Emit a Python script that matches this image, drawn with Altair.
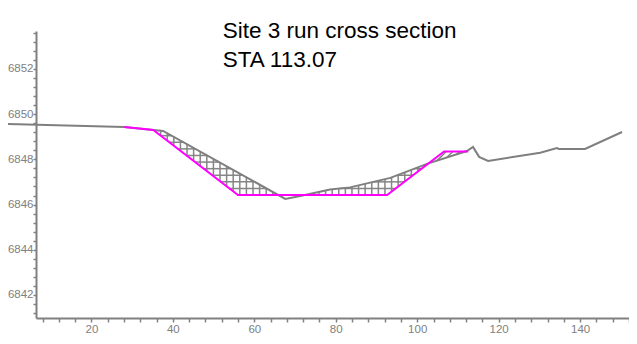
import altair as alt
import numpy as np
import pandas as pd

# Existing ground profile (gray)
ground_sta = [-2.4, 28.1, 37.6, 67.6, 71.3, 78.6, 83.5, 93.4, 102.4, 112.2,
              113.7, 115.2, 117.4, 130.2, 134.3, 134.8, 141.2, 150.3]
ground_elev = [6849.57, 6849.43, 6849.26, 6846.25, 6846.38, 6846.67, 6846.76,
               6847.18, 6847.80, 6848.37, 6848.55, 6848.11, 6847.93, 6848.29,
               6848.50, 6848.46, 6848.46, 6849.21]

# Design cross section (magenta)
design_sta = [28.1, 35.2, 56.0, 92.6, 106.6, 112.5]
design_elev = [6849.43, 6849.30, 6846.42, 6846.42, 6848.35, 6848.35]

title_lines = ["Site 3 run cross section", "STA 113.07"]

x_ticks = list(range(8, 153, 4))
y_ticks = [round(v, 1) for v in np.arange(6841.2, 6853.7, 0.4)]

# ---- hatch segments derived from the two profiles ----
gs = np.array(ground_sta); ge = np.array(ground_elev)
ds = np.array(design_sta); de = np.array(design_elev)
xs = np.linspace(ds[0], ds[-1], 8000)
g = np.interp(xs, gs, ge)
d = np.interp(xs, ds, de)


def runs(mask):
    idx = np.flatnonzero(np.diff(np.concatenate([[0], mask.astype(int), [0]])))
    return list(zip(idx[::2], idx[1::2] - 1))


segs = []
step_x = 1.62
step_y = 0.292
# cut area: vertical lines
for xv in np.arange(ds[0] + 0.8, ds[-1], step_x):
    gv = np.interp(xv, gs, ge); dv = np.interp(xv, ds, de)
    if gv - dv > 0.04:
        segs.append((xv, dv, xv, gv))
# cut area: horizontal lines
for yv in np.arange(6846.42, 6849.5, step_y):
    mask = (d < yv) & (g > yv) & (g - d > 0.04)
    for i0, i1 in runs(mask):
        if xs[i1] - xs[i0] > 0.1:
            segs.append((xs[i0], yv, xs[i1], yv))
# fill area: diagonal lines
k = 4.075 / 22.6
for x0 in np.arange(90, 120, step_x):
    yl = 6847.6 + k * (xs - x0)
    mask = (g < yl) & (yl < d) & (d - g > 0.03)
    for i0, i1 in runs(mask):
        if xs[i1] - xs[i0] > 0.1:
            segs.append((xs[i0], yl[i0], xs[i1], yl[i1]))

hatch = pd.DataFrame(segs, columns=["x", "y", "x2", "y2"])
ground = pd.DataFrame({"sta": ground_sta, "elev": ground_elev})
design = pd.DataFrame({"sta": design_sta, "elev": design_elev})

xscale = alt.Scale(domain=[6.4, 152.0], nice=False, zero=False)
yscale = alt.Scale(domain=[6840.98, 6853.68], nice=False, zero=False)

x_axis = alt.Axis(values=x_ticks, tickCount=500,
                  labelExpr="datum.value % 20 === 0 ? format(datum.value, 'd') : ''",
                  title=None, grid=False, tickSize=4, labelPadding=1,
                  labelOverlap=False, labelFlush=False, labelBound=False)
y_axis = alt.Axis(values=y_ticks, tickCount=500,
                  labelExpr="abs(datum.value/2 - round(datum.value/2)) < 0.01 ? format(datum.value, 'd') : ''",
                  title=None, grid=False, tickSize=3, labelPadding=0,
                  labelOverlap=False, labelFlush=False, labelBound=False)

hatch_layer = alt.Chart(hatch).mark_rule(color="#858585", strokeWidth=1.5).encode(
    x=alt.X("x:Q", scale=xscale, axis=x_axis),
    y=alt.Y("y:Q", scale=yscale, axis=y_axis),
    x2="x2:Q", y2="y2:Q",
)

ground_layer = alt.Chart(ground).mark_line(color="#7f7f7f", strokeWidth=2, clip=False).encode(
    x=alt.X("sta:Q", scale=xscale),
    y=alt.Y("elev:Q", scale=yscale),
)

design_layer = alt.Chart(design).mark_line(color="#ff00ff", strokeWidth=2).encode(
    x=alt.X("sta:Q", scale=xscale),
    y=alt.Y("elev:Q", scale=yscale),
)

t1 = alt.Chart(pd.DataFrame({"t": [title_lines[0]]})).mark_text(
    align="left", baseline="alphabetic", fontSize=22.5, font="Liberation Sans", color="black"
).encode(x=alt.value(186.7), y=alt.value(7.3), text="t:N")
t2 = alt.Chart(pd.DataFrame({"t": [title_lines[1]]})).mark_text(
    align="left", baseline="alphabetic", fontSize=22.5, font="Liberation Sans", color="black"
).encode(x=alt.value(186.7), y=alt.value(35.7), text="t:N")

chart = alt.layer(hatch_layer, ground_layer, design_layer, t1, t2).properties(
    width=593, height=287,
    autosize=alt.AutoSizeParams(type="none"),
    padding={"left": 28, "top": 23, "right": 0, "bottom": 18},
    background="white",
).configure_view(stroke=None).configure_axis(
    domainColor="#808080", domainWidth=2, tickColor="#808080", tickWidth=1.5,
    labelColor="#808080", labelFont="Liberation Sans", labelFontSize=11.5,
)

chart.save("out.html", embed_options={"renderer": "svg", "actions": False})
